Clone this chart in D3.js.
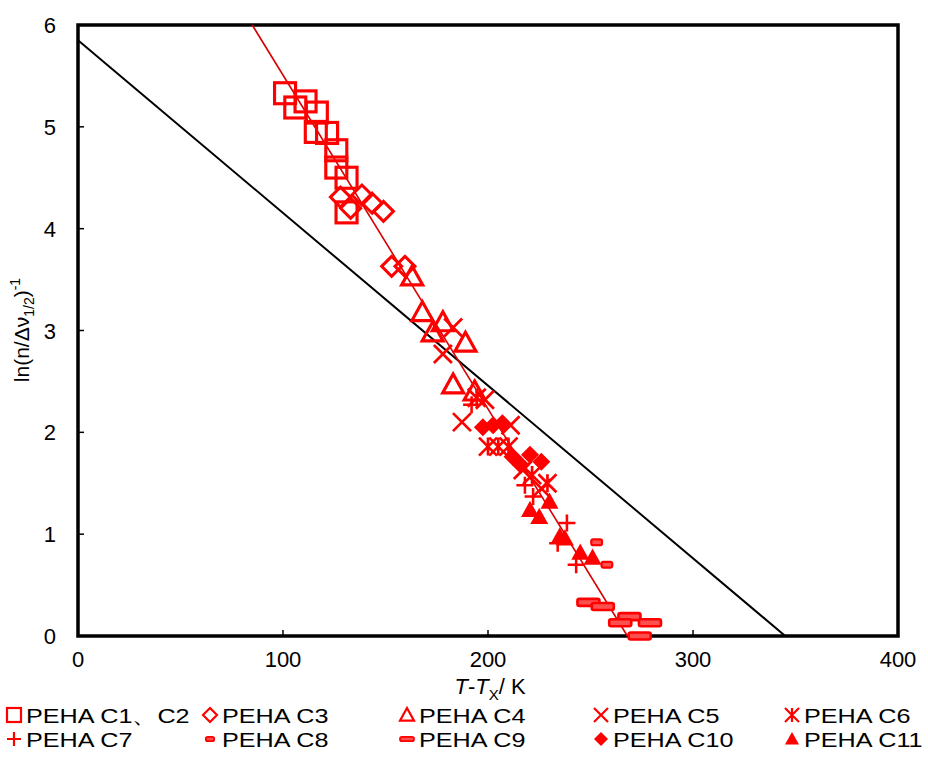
<!DOCTYPE html>
<html>
<head>
<script src="https://d3js.org/d3.v7.min.js"></script>
<style>
body { margin: 0; background: #fff; }
text { font-family: Arial, "Liberation Sans", sans-serif; }
</style>
</head>
<body>
<script>
// ---- data (x = T-Tx in K, y = ln(n/dv1/2)^-1)
var c1c2 = [[101,5.33],[106,5.19],[111,5.25],[116.5,5.14],[116,4.95],[121.5,4.94],[126,4.77],[126,4.6],[131,4.5],[131,4.16]];
var c3 = [[128,4.31],[133,4.2],[138.5,4.33],[143.5,4.25],[149,4.17],[153,3.63],[159.5,3.63]];
var c4 = [[163,3.53],[168,3.18],[178,3.08],[173,2.98],[189,2.88],[183,2.47],[193.5,2.40]];
var c5 = [[183,3.03],[178,2.77],[198.5,2.32],[187.3,2.1],[211,2.07],[217,1.63],[226,1.45]];
var c6 = [[194.5,2.34],[200,1.86],[205,1.86],[210,1.86],[221.5,1.58],[229,1.5]];
var c7 = [[192,2.27],[218,1.48],[222,1.37],[238.5,1.11],[234,0.91],[243,0.70]];
var c8 = [[253,0.92],[258,0.70]];
var c9 = [[249,0.33],[256,0.29],[269,0.19],[264.5,0.13],[279,0.13],[274,0.0]];
var c10 = [[197.5,2.05],[202.5,2.07],[207,2.09],[212,1.76],[220.5,1.78],[226,1.71],[216,1.68]];
var c11 = [[220.5,1.24],[225,1.17],[230,1.32],[237.5,0.96],[235,0.98],[245,0.82],[251,0.77]];

var seriesNames = ["PEHA C1、C2","PEHA C3","PEHA C4","PEHA C5","PEHA C6",
                   "PEHA C7","PEHA C8","PEHA C9","PEHA C10","PEHA C11"];
var seriesData = [c1c2, c3, c4, c5, c6, c7, c8, c9, c10, c11];
var seriesMarks = ["square","diamond","triangle","cross","star","plus","dash","longdash","diamondFill","triangleFill"];

// fitted lines: [x0, y0, x1, y1]
var redFit = [85, 6, 268, 0];
var blackFit = [0, 5.85, 345, 0];

var xTicks = [0, 100, 200, 300, 400];
var yTicks = [0, 1, 2, 3, 4, 5, 6];

var W = 928, H = 760;
var RED = "#ff0000";

var svg = d3.select("body").append("svg")
    .attr("width", W)
    .attr("height", H);

svg.append("rect").attr("width", W).attr("height", H).attr("fill", "#fff");

var x = d3.scaleLinear().domain([0, 400]).range([78, 898]);
var y = d3.scaleLinear().domain([0, 6]).range([636, 25]);

// frame
svg.append("rect")
    .attr("x", x(0)).attr("y", y(6))
    .attr("width", x(400) - x(0)).attr("height", y(0) - y(6))
    .attr("fill", "none").attr("stroke", "#000").attr("stroke-width", 3.5);

// inward ticks
svg.selectAll(".yt").data(yTicks.slice(1, -1)).enter().append("line")
    .attr("x1", x(0)).attr("x2", x(0) + 6)
    .attr("y1", function(d) { return y(d); }).attr("y2", function(d) { return y(d); })
    .attr("stroke", "#000").attr("stroke-width", 1.5);
svg.selectAll(".xt").data(xTicks.slice(1, -1)).enter().append("line")
    .attr("y1", y(0)).attr("y2", y(0) - 6)
    .attr("x1", function(d) { return x(d); }).attr("x2", function(d) { return x(d); })
    .attr("stroke", "#000").attr("stroke-width", 1.5);

// tick labels
svg.selectAll(".yl").data(yTicks).enter().append("text")
    .attr("x", x(0) - 22).attr("y", function(d) { return y(d) + 8; })
    .attr("text-anchor", "end").style("font-size", "22px")
    .text(function(d) { return d; });
svg.selectAll(".xl").data(xTicks).enter().append("text")
    .attr("x", function(d) { return x(d); }).attr("y", 667)
    .attr("text-anchor", "middle").style("font-size", "22px")
    .text(function(d) { return d; });

// axis titles
var xt = svg.append("text").attr("x", 490).attr("y", 694)
    .attr("text-anchor", "middle").style("font-size", "22px");
xt.append("tspan").style("font-style", "italic").text("T");
xt.append("tspan").text("-");
xt.append("tspan").style("font-style", "italic").text("T");
xt.append("tspan").attr("dy", 6).style("font-size", "15px").text("X");
xt.append("tspan").attr("dy", -6).text("/ K");

var yt = svg.append("text")
    .attr("transform", "translate(29,330) rotate(-90)")
    .attr("text-anchor", "middle").style("font-size", "21px");
yt.append("tspan").text("ln(n/Δν");
yt.append("tspan").attr("dy", 5).style("font-size", "14px").text("1/2");
yt.append("tspan").attr("dy", -5).text(")");
yt.append("tspan").attr("dy", -9).style("font-size", "14px").text("-1");

// fit lines
svg.append("line")
    .attr("x1", x(blackFit[0])).attr("y1", y(blackFit[1]))
    .attr("x2", x(blackFit[2])).attr("y2", y(blackFit[3]))
    .attr("stroke", "#000").attr("stroke-width", 2);
svg.append("line")
    .attr("x1", x(redFit[0])).attr("y1", y(redFit[1]))
    .attr("x2", x(redFit[2])).attr("y2", y(redFit[3]))
    .attr("stroke", "#d80000").attr("stroke-width", 1.6);

// marker drawing
function drawMark(g, kind, s) {
  var h = s / 2, sw = Math.max(2.2, s * 0.15);
  switch (kind) {
    case "square":
      g.append("rect").attr("x", -h).attr("y", -h).attr("width", s).attr("height", s)
        .attr("fill", "none").attr("stroke", RED).attr("stroke-width", sw);
      break;
    case "diamond":
      g.append("path").attr("d", "M0," + (-h) + "L" + h + ",0L0," + h + "L" + (-h) + ",0Z")
        .attr("fill", "none").attr("stroke", RED).attr("stroke-width", sw);
      break;
    case "triangle":
      g.append("path").attr("d", "M0," + (-h) + "L" + h + "," + (h * 0.8) + "L" + (-h) + "," + (h * 0.8) + "Z")
        .attr("fill", "none").attr("stroke", RED).attr("stroke-width", sw);
      break;
    case "cross":
      g.append("path").attr("d", "M" + (-h) + "," + (-h) + "L" + h + "," + h + "M" + h + "," + (-h) + "L" + (-h) + "," + h)
        .attr("stroke", RED).attr("stroke-width", sw);
      break;
    case "star":
      g.append("path").attr("d", "M" + (-h) + "," + (-h) + "L" + h + "," + h + "M" + h + "," + (-h) + "L" + (-h) + "," + h + "M0," + (-h) + "L0," + h)
        .attr("stroke", RED).attr("stroke-width", sw);
      break;
    case "plus":
      g.append("path").attr("d", "M" + (-h) + ",0L" + h + ",0M0," + (-h) + "L0," + h)
        .attr("stroke", RED).attr("stroke-width", sw);
      break;
    case "dash":
      g.append("rect").attr("x", -s * 0.3).attr("y", -s * 0.16).attr("width", s * 0.6).attr("height", s * 0.32)
        .attr("rx", 2).attr("fill", "#ff5050").attr("stroke", RED).attr("stroke-width", sw * 0.8);
      break;
    case "longdash":
      g.append("rect").attr("x", -h).attr("y", -s * 0.16).attr("width", s).attr("height", s * 0.32)
        .attr("rx", 2).attr("fill", "#ff5050").attr("stroke", RED).attr("stroke-width", sw * 0.8);
      break;
    case "diamondFill":
      g.append("path").attr("d", "M0," + (-h) + "L" + h + ",0L0," + h + "L" + (-h) + ",0Z")
        .attr("fill", RED);
      break;
    case "triangleFill":
      g.append("path").attr("d", "M0," + (-h) + "L" + h + "," + (h * 0.8) + "L" + (-h) + "," + (h * 0.8) + "Z")
        .attr("fill", RED);
      break;
  }
}

var markSize = [21, 20, 21, 18, 18, 17, 18, 22, 18, 18];

seriesData.forEach(function(pts, i) {
  svg.append("g").selectAll("g").data(pts).enter().append("g")
    .attr("transform", function(d) { return "translate(" + x(d[0]) + "," + y(d[1]) + ")"; })
    .each(function() { drawMark(d3.select(this), seriesMarks[i], markSize[i]); });
});

// legend
var legX = [14, 210, 407, 601, 792];
var legY = [715, 739];
seriesNames.forEach(function(name, i) {
  var col = i % 5, row = Math.floor(i / 5);
  var g = svg.append("g").attr("transform", "translate(" + legX[col] + "," + legY[row] + ")");
  drawMark(g, seriesMarks[i], 14);
  g.append("text").attr("x", 10).attr("y", 8).style("font-size", "21px")
    .attr("transform", "scale(1.2,1)").text(name);
});
</script>
</body>
</html>
